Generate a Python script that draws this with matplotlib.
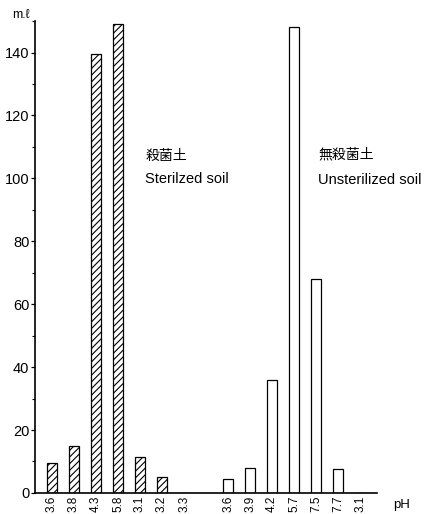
import matplotlib.pyplot as plt
from matplotlib.ticker import MultipleLocator

plt.rcParams['font.family'] = ['Liberation Sans', 'Noto Sans CJK JP', 'DejaVu Sans']
plt.rcParams['hatch.linewidth'] = 0.8

# pH of each sample and the volume measured (ml)
ph_sterilized = ["3.6", "3.8", "4.3", "5.8", "3.1", "3.2", "3.3"]
ml_sterilized = [9.5, 15, 139.5, 149, 11.5, 5, 0]
ph_unsterilized = ["3.6", "3.9", "4.2", "5.7", "7.5", "7.7", "3.1"]
ml_unsterilized = [4.5, 8, 36, 148, 68, 7.5, 0]

pos_st = list(range(len(ph_sterilized)))
pos_un = [p + len(ph_sterilized) + 1 for p in range(len(ph_unsterilized))]

fig = plt.figure(figsize=(4.32, 5.14), dpi=100)
ax = fig.add_axes([0.081, 0.041, 0.792, 0.918])

ax.bar(pos_st, ml_sterilized, width=0.46, color="white", edgecolor="black",
       hatch="/////", linewidth=0.9)
ax.bar(pos_un, ml_unsterilized, width=0.46, color="white", edgecolor="black",
       linewidth=0.9)

ax.set_xlim(-0.77, 14.77)
ax.set_ylim(0, 150)
ax.yaxis.set_minor_locator(MultipleLocator(10))
ax.set_yticks(range(0, 141, 20))
ax.tick_params(axis="y", direction="out", length=3, width=0.9, labelsize=10.5, pad=1)
ax.tick_params(axis="y", which="minor", length=2, width=0.8)
ax.set_xticks(pos_st + pos_un)
ax.set_xticklabels(ph_sterilized + ph_unsterilized, rotation=90, fontsize=8.5)
ax.tick_params(axis="x", length=0, pad=2)

for side in ("top", "right"):
    ax.spines[side].set_visible(False)
ax.spines["left"].set_linewidth(1.2)
ax.spines["bottom"].set_linewidth(1.2)

fig.text(0.028, 0.971, "m.ℓ", fontsize=9, va="center")
fig.text(0.91, 0.017, "pH", fontsize=9.5, va="center")

fig.text(0.336, 0.697, "殺菌土", fontsize=10, va="center")
fig.text(0.336, 0.652, "Sterilzed soil", fontsize=10.5, va="center")
fig.text(0.736, 0.700, "無殺菌土", fontsize=10, va="center")
fig.text(0.736, 0.650, "Unsterilized soil", fontsize=10.5, va="center")

fig.savefig("out.png", dpi=100)
